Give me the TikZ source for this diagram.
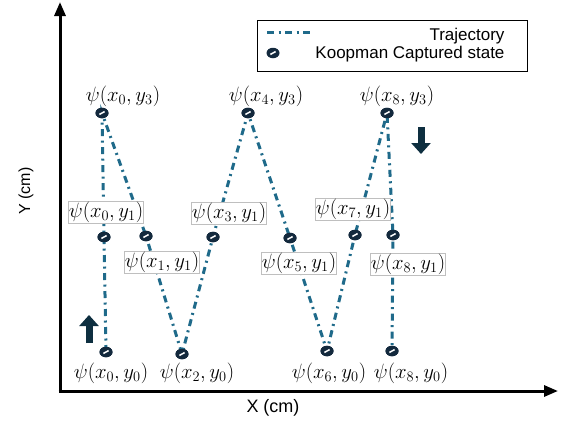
\documentclass[tikz,border=0pt]{standalone}
\usepackage{fontspec}
\setsansfont{Liberation Sans}
\usetikzlibrary{arrows.meta,positioning,shapes.geometric}

\definecolor{trajblue}{HTML}{1F6A8A}
\definecolor{statenavy}{HTML}{13293D}
\definecolor{arrownavy}{HTML}{0E2F40}

\tikzset{
  traj/.style={trajblue,line width=3pt,dash pattern=on 7pt off 4.5pt on 2pt off 4.5pt},
  kstate/.style={ellipse,fill=statenavy,minimum width=13pt,minimum height=10.5pt,inner sep=0pt,
    path picture={\draw[white,line width=1.5pt]
      ([shift={(-2.6pt,-1.4pt)}]path picture bounding box.center) --
      ([shift={(2.6pt,1.4pt)}]path picture bounding box.center);}},
  psi/.style={font=\huge,inner sep=0.6pt},
  psibox/.style={psi,draw=black!25,fill=white,line width=0.7pt},
  sans/.style={font=\sffamily\fontsize{17}{20}\selectfont},
  bigarr/.style={arrownavy,line width=7pt,-{Triangle[width=19pt,length=11pt]}},
  axis/.style={line width=3pt,-{Triangle[width=11pt,length=14pt]}}
}

\begin{document}
\begin{tikzpicture}[x=1pt,y=-1pt]
\useasboundingbox (0,0) rectangle (563,424);

% axes
\coordinate (O) at (60,391);
\coordinate (ytop) at (60,2);
\coordinate (xend) at (558,391);
\draw[axis] (O) -- (ytop);
\draw[axis] ([xshift=-1.5pt]O) -- (xend);
\node[sans,rotate=90,font=\sffamily\fontsize{16}{19}\selectfont] (ylab) at (26,191) {Y (cm)};
\node[sans,font=\sffamily\fontsize{18}{21}\selectfont] (xlab) at (273,408) {X (cm)};

% Koopman captured states
\node[kstate] (s03) at (102,113) {};
\node[kstate] (s01) at (104,237) {};
\node[kstate] (s00) at (106,352) {};
\node[kstate] (s11) at (146,236) {};
\node[kstate] (s20) at (182,354) {};
\node[kstate] (s31) at (213,237) {};
\node[kstate] (s43) at (248,113) {};
\node[kstate] (s51) at (290,238) {};
\node[kstate] (s60) at (327,351) {};
\node[kstate] (s71) at (355,235) {};
\node[kstate] (s83) at (387,113) {};
\node[kstate] (s81) at (393,235) {};
\node[kstate] (s80) at (392,351) {};

% trajectory
\draw[traj] (s00.center) -- (s01.center) -- (s03.center) -- (s11.center) -- (s20.center)
  -- (s31.center) -- (s43.center) -- (s51.center) -- (s60.center) -- (s71.center)
  -- (s83.center) -- (s81.center) -- (s80.center);

% labels
\node[psi] (l03) at (123,96) {$\psi(x_0,y_3)$};
\node[psibox] (l01) at (106,212) {$\psi(x_0,y_1)$};
\node[psibox] (l11) at (162,262) {$\psi(x_1,y_1)$};
\node[psibox] (l31) at (229,213) {$\psi(x_3,y_1)$};
\node[psi] (l43) at (266,96) {$\psi(x_4,y_3)$};
\node[psibox] (l51) at (299,263) {$\psi(x_5,y_1)$};
\node[psibox] (l71) at (353,209) {$\psi(x_7,y_1)$};
\node[psi] (l83) at (397,96) {$\psi(x_8,y_3)$};
\node[psibox] (l81) at (408,264) {$\psi(x_8,y_1)$};
\node[psi] (l00) at (111,373) {$\psi(x_0,y_0)$};
\node[psi] (l20) at (197,373) {$\psi(x_2,y_0)$};
\node[psi] (l60) at (329,373) {$\psi(x_6,y_0)$};
\node[psi] (l80) at (411,373) {$\psi(x_8,y_0)$};

% redraw states over boxes
\foreach \s in {s03,s01,s00,s11,s20,s31,s43,s51,s60,s71,s83,s81,s80}
  \node[kstate] at (\s) {};

% direction arrows
\coordinate (upA) at (89,343);
\coordinate (upB) at (89,315);
\coordinate (dnA) at (421,127);
\coordinate (dnB) at (421,154);
\draw[bigarr] (upA) -- (upB);
\draw[bigarr] (dnA) -- (dnB);

% legend
\node[draw,line width=1pt,minimum width=270pt,minimum height=51pt,inner sep=0pt] (legend) at (392,45.5) {};
\coordinate (lgA) at (267,32);
\coordinate (lgB) at (313,32);
\draw[traj] (lgA) -- (lgB);
\node[kstate] (lgstate) at (273,53) {};
\node[sans,anchor=east] (lgtraj) at (508,36) {Trajectory};
\node[sans,anchor=east] (lgkoop) at (508,54) {Koopman Captured state};
\end{tikzpicture}
\end{document}
